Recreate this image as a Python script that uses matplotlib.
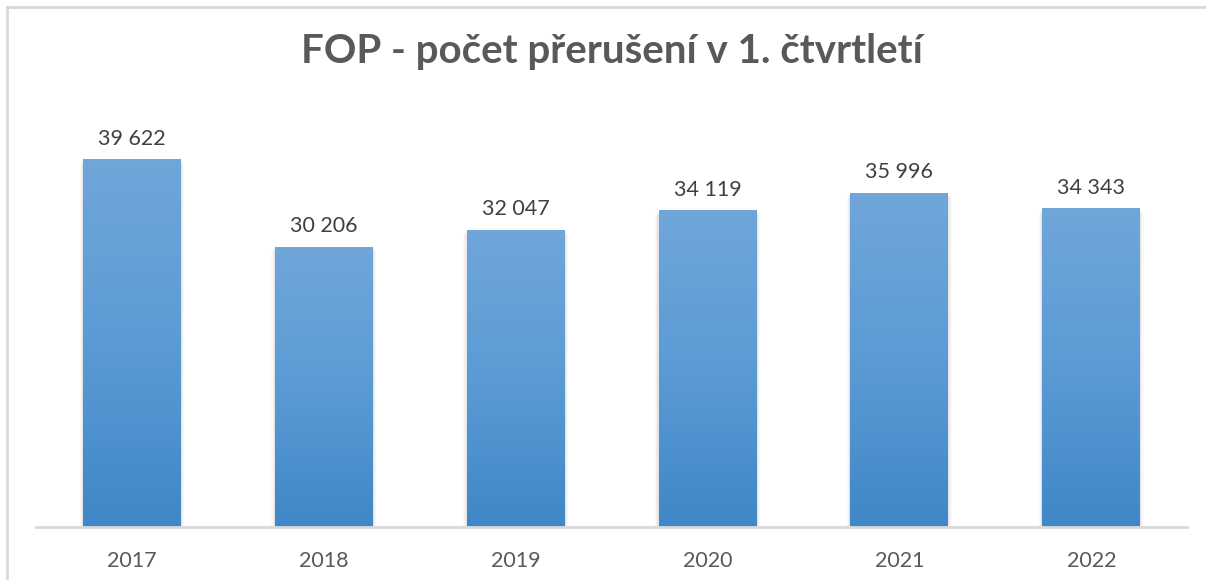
import matplotlib.pyplot as plt
import numpy as np
from matplotlib.colors import LinearSegmentedColormap
from matplotlib.lines import Line2D
from matplotlib.patches import Rectangle

# data
years = ['2017', '2018', '2019', '2020', '2021', '2022']
counts = [39622, 30206, 32047, 34119, 35996, 34343]
title = 'FOP - počet přerušení v 1. čtvrtletí'

plt.rcParams['font.family'] = ['Lato', 'DejaVu Sans']

fig = plt.figure(figsize=(12.06, 5.8), dpi=100)
ax = fig.add_axes([0.0299, 0.0914, 0.9545, 0.7189])

x = np.arange(len(years))
bars = ax.bar(x, counts, width=0.51, color='none', zorder=2)

# gradient fill: lighter on top, darker at bottom
cmap = LinearSegmentedColormap.from_list('blu', ['#3f87c7', '#5b9bd5', '#70a6da'])
grad = np.linspace(0, 1, 256).reshape(-1, 1)
for b in bars:
    x0, w, h = b.get_x(), b.get_width(), b.get_height()
    # soft shadow on the sides
    for k, a in enumerate([0.05, 0.035, 0.02]):
        d = 0.006 * (k + 1)
        ax.add_patch(Rectangle((x0 - d, 0), w + 2 * d, h - 150 * (k + 1),
                               facecolor='black', alpha=a, lw=0, zorder=1))
    ax.imshow(grad, extent=(x0, x0 + w, 0, h), origin='lower', cmap=cmap,
              aspect='auto', zorder=3)

for xi, v in zip(x, counts):
    ax.text(xi, v + 1200, f'{v:,}'.replace(',', ' '), ha='center', va='bottom',
            fontsize=15.5, color='#404040')

ax.set_xlim(-0.5, len(years) - 0.5)
ax.set_ylim(0, 45000)
ax.set_xticks(x)
ax.set_xticklabels(years, fontsize=15.5, color='#595959')
ax.tick_params(axis='x', length=0, pad=17)
ax.set_yticks([])
for s in ['top', 'right', 'left']:
    ax.spines[s].set_visible(False)
ax.spines['bottom'].set_color('#d9d9d9')
ax.spines['bottom'].set_linewidth(2)
ax.spines['bottom'].set_zorder(4)

fig.text(0.5075, 0.912, title, ha='center', va='center', fontsize=29,
         fontweight='bold', color='#595959')

# outer chart frame (left and top edges visible)
fig.add_artist(Line2D([7 / 1206, 7 / 1206], [0, 1 - 6.5 / 580], color='#d9d9d9', lw=2))
fig.add_artist(Line2D([7 / 1206, 1], [1 - 6.5 / 580, 1 - 6.5 / 580], color='#d9d9d9', lw=2))

fig.savefig('out.png', dpi=100)
